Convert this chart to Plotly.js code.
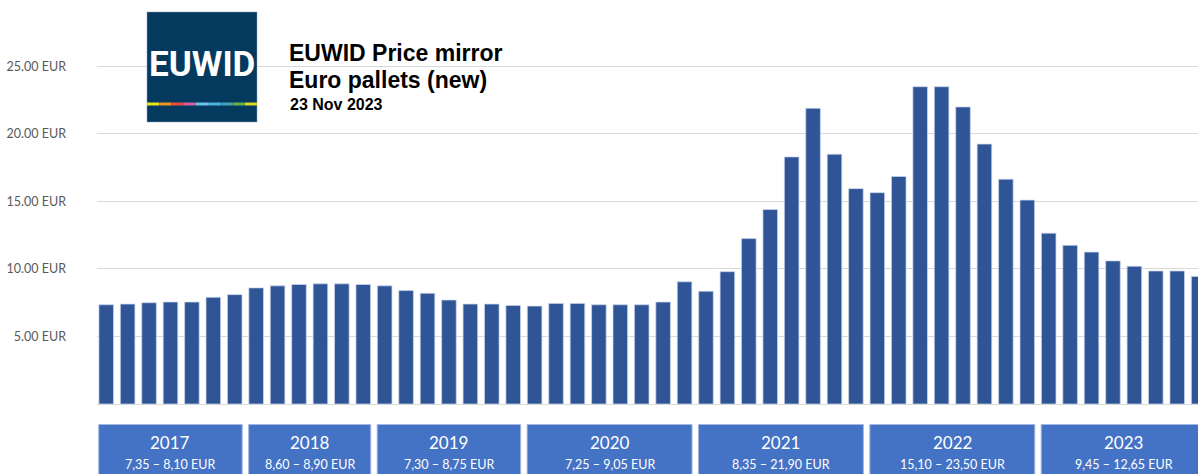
<!DOCTYPE html>
<html>
<head>
<meta charset="utf-8">
<script src="https://cdn.plot.ly/plotly-3.0.1.min.js"></script>
<style>
  html, body { margin: 0; padding: 0; background: #fff; }
  #chart { width: 1198px; height: 474px; }
</style>
</head>
<body>
<div id="chart"></div>
<script>
// Euro pallet (new) prices, EUR per pallet, oldest first
const prices = [
  7.35, 7.40, 7.50, 7.55, 7.55, 7.90, 8.10,
  8.60, 8.75, 8.85, 8.90, 8.90, 8.85,
  8.75, 8.40, 8.20, 7.70, 7.40, 7.40, 7.30,
  7.25, 7.45, 7.45, 7.35, 7.35, 7.35, 7.55, 9.05,
  8.35, 9.80, 12.25, 14.40, 18.30, 21.90, 18.50, 15.95,
  15.65, 16.85, 23.50, 23.50, 22.00, 19.25, 16.65, 15.10,
  12.65, 11.75, 11.25, 10.60, 10.20, 9.85, 9.85, 9.45
];

// year groups: first and last bar of each year
const years = ['2017', '2018', '2019', '2020', '2021', '2022', '2023'];
const yearFirst = [0, 7, 13, 20, 28, 36, 44];
const yearLast = [6, 12, 19, 27, 35, 43, 51];
const yearRanges = [
  '7,35 – 8,10 EUR', '8,60 – 8,90 EUR', '7,30 – 8,75 EUR', '7,25 – 9,05 EUR',
  '8,35 – 21,90 EUR', '15,10 – 23,50 EUR', '9,45 – 12,65 EUR'
];

const yTicks = [5, 10, 15, 20, 25];
const yTickText = ['5.00 EUR', '10.00 EUR', '15.00 EUR', '20.00 EUR', '25.00 EUR'];
const stripeColors = ['#ece31e', '#f0941d', '#e84a3b', '#d05fa3', '#6cc3ec',
                      '#4db3e0', '#3ea3b8', '#6bb043', '#d8d81f'];

// page layout helpers (pixels -> paper)
const W = 1198, H = 474;
const M = {l: 97, r: 0, t: 30, b: 70};
function px(x) { return (x - M.l) / (W - M.l - M.r); }
function py(y) { return (H - M.b - y) / (H - M.t - M.b); }

let xs = prices.map((p, i) => i);

let trace = {
  type: 'bar',
  x: xs,
  y: prices,
  width: 0.68,
  marker: {color: '#2f5597', line: {color: 'rgba(200,212,236,0.9)', width: 0.8}},
  hoverinfo: 'y'
};

let shapes = [];
let annotations = [];

// year boxes under the bars
for (let i = 0; i < years.length; i++) {
  shapes.push({
    type: 'rect', xref: 'x', yref: 'paper',
    x0: yearFirst[i] - 0.35, x1: yearLast[i] + 0.35,
    y0: py(480), y1: py(424.5),
    fillcolor: '#4472c4', line: {color: '#a3b7e2', width: 1}
  });
  annotations.push({
    xref: 'x', yref: 'paper', x: (yearFirst[i] + yearLast[i]) / 2, y: py(442),
    text: years[i], showarrow: false, xanchor: 'center', yanchor: 'middle',
    font: {family: 'Lato, sans-serif', size: 17, color: '#ffffff'}
  });
  annotations.push({
    xref: 'x', yref: 'paper', x: (yearFirst[i] + yearLast[i]) / 2, y: py(464.5),
    text: yearRanges[i], showarrow: false, xanchor: 'center', yanchor: 'middle',
    font: {family: 'Lato, sans-serif', size: 12.5, color: '#ffffff'}
  });
}

// logo
shapes.push({
  type: 'rect', xref: 'paper', yref: 'paper',
  x0: px(147), x1: px(257), y0: py(122), y1: py(12),
  fillcolor: '#043a5e', line: {color: '#8aa0b4', width: 0.5}
});
let segW = 110 / stripeColors.length;
stripeColors.forEach((c, i) => {
  shapes.push({
    type: 'rect', xref: 'paper', yref: 'paper',
    x0: px(147 + i * segW), x1: px(147 + (i + 1) * segW), y0: py(105.5), y1: py(102.5),
    fillcolor: c, line: {width: 0}
  });
});
annotations.push({
  xref: 'paper', yref: 'paper', x: px(202), y: py(64),
  text: '<b>EUWID</b>', showarrow: false, xanchor: 'center', yanchor: 'middle',
  font: {family: 'Roboto, sans-serif', size: 35, color: '#ffffff'}
});

// title block
annotations.push({
  xref: 'paper', yref: 'paper', x: px(287), y: py(52.5),
  text: '<b>EUWID Price mirror</b>', showarrow: false, xanchor: 'left', yanchor: 'middle',
  font: {family: 'Liberation Sans, Arial, sans-serif', size: 23, color: '#000000'}
});
annotations.push({
  xref: 'paper', yref: 'paper', x: px(287), y: py(80),
  text: '<b>Euro pallets (new)</b>', showarrow: false, xanchor: 'left', yanchor: 'middle',
  font: {family: 'Liberation Sans, Arial, sans-serif', size: 23, color: '#000000'}
});
annotations.push({
  xref: 'paper', yref: 'paper', x: px(288), y: py(104),
  text: '<b>23 Nov 2023</b>', showarrow: false, xanchor: 'left', yanchor: 'middle',
  font: {family: 'Liberation Sans, Arial, sans-serif', size: 16, color: '#000000'}
});

let layout = {
  width: W,
  height: H,
  margin: M,
  paper_bgcolor: '#ffffff',
  plot_bgcolor: '#ffffff',
  showlegend: false,
  xaxis: {
    range: [-0.43, 50.97],
    showgrid: false,
    zeroline: false,
    showline: false,
    showticklabels: false,
    fixedrange: true
  },
  yaxis: {
    range: [0, 27.7],
    tickmode: 'array',
    tickvals: yTicks,
    ticktext: yTickText,
    showgrid: true,
    gridcolor: '#d9d9d9',
    gridwidth: 1,
    zeroline: true,
    zerolinecolor: '#d9d9d9',
    zerolinewidth: 1,
    showline: false,
    ticklabelstandoff: 30,
    tickfont: {family: 'Lato, sans-serif', size: 12.5, color: '#595959'},
    fixedrange: true
  },
  shapes: shapes,
  annotations: annotations
};

Plotly.newPlot('chart', [trace], layout, {displayModeBar: false, staticPlot: true});
</script>
</body>
</html>
